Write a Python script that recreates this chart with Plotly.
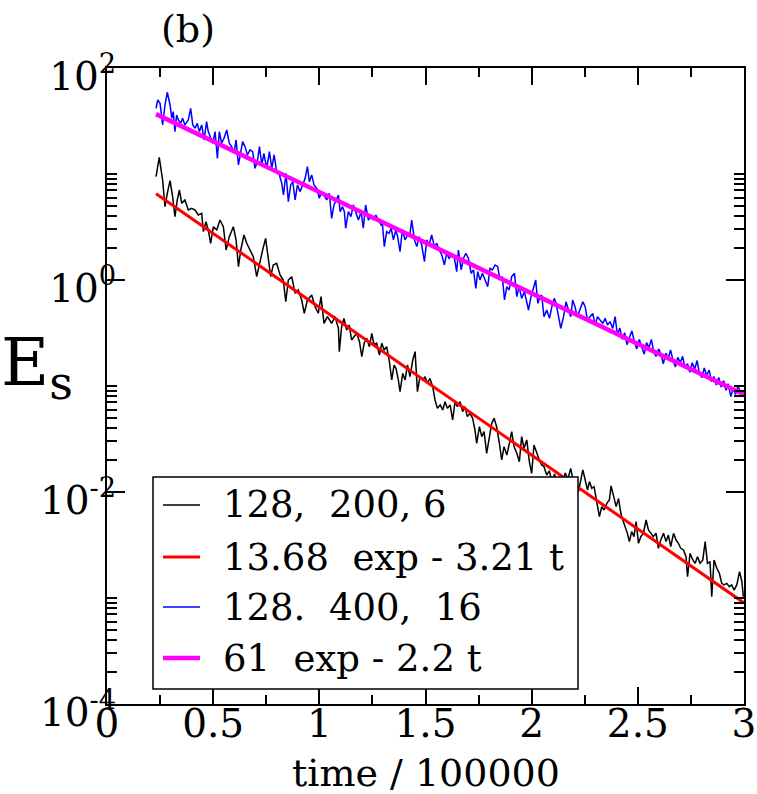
import plotly.graph_objects as go

# ---- data (E values read on the log axis as log10 E) ----
black_t = [
    0.231, 0.246, 0.262, 0.273, 0.284, 0.297, 0.309, 0.320, 0.331, 0.341,
    0.352, 0.367, 0.383, 0.399, 0.415, 0.430, 0.446, 0.454, 0.466, 0.477,
    0.488, 0.501, 0.517, 0.532, 0.548, 0.561, 0.576, 0.595, 0.608, 0.619,
    0.630, 0.645, 0.658, 0.674, 0.689, 0.705, 0.721, 0.733, 0.747, 0.760,
    0.771, 0.783, 0.799, 0.815, 0.830, 0.842, 0.854, 0.870, 0.886, 0.901,
    0.917, 0.929, 0.944, 0.964, 0.980, 0.995, 1.008, 1.022, 1.038, 1.058,
    1.074, 1.090, 1.094, 1.105, 1.116, 1.129, 1.141, 1.152, 1.163, 1.176,
    1.189, 1.200, 1.211, 1.223, 1.236, 1.247, 1.258, 1.270, 1.283, 1.294,
    1.305, 1.317, 1.330, 1.341, 1.352, 1.361, 1.372, 1.380, 1.393, 1.404,
    1.415, 1.427, 1.440, 1.451, 1.462, 1.474, 1.487, 1.498, 1.509, 1.521,
    1.534, 1.545, 1.556, 1.569, 1.581, 1.592, 1.603, 1.616, 1.628, 1.639,
    1.650, 1.663, 1.675, 1.686, 1.697, 1.710, 1.722, 1.733, 1.741, 1.754,
    1.765, 1.776, 1.788, 1.801, 1.812, 1.823, 1.835, 1.848, 1.859, 1.870,
    1.883, 1.895, 1.906, 1.917, 1.930, 1.942, 1.953, 1.964, 1.977, 1.989,
    2.000, 2.011, 2.024, 2.036, 2.047, 2.058, 2.071, 2.083, 2.095, 2.108,
    2.120, 2.133, 2.145, 2.158, 2.170, 2.184, 2.196, 2.208, 2.220, 2.241,
    2.252, 2.263, 2.272, 2.283, 2.294, 2.307, 2.319, 2.330, 2.341, 2.354,
    2.366, 2.374, 2.385, 2.398, 2.409, 2.420, 2.429, 2.440, 2.451, 2.460,
    2.471, 2.482, 2.492, 2.503, 2.514, 2.526, 2.539, 2.550, 2.561, 2.573,
    2.586, 2.597, 2.608, 2.621, 2.633, 2.644, 2.655, 2.668, 2.680, 2.691,
    2.702, 2.715, 2.727, 2.734, 2.746, 2.759, 2.770, 2.781, 2.793, 2.806,
    2.817, 2.828, 2.840, 2.848, 2.859, 2.872, 2.884, 2.895, 2.906, 2.919,
    2.931, 2.942, 2.953, 2.966, 2.979, 2.990, 2.997,
]
black_log10E = [
    0.975, 1.157, 0.943, 0.692, 0.818, 0.937, 0.786, 0.597, 0.755, 0.849,
    0.723, 0.755, 0.660, 0.676, 0.660, 0.613, 0.629, 0.456, 0.550, 0.472,
    0.346, 0.503, 0.472, 0.566, 0.503, 0.283, 0.409, 0.503, 0.377, 0.126,
    0.283, 0.425, 0.346, 0.283, 0.220, 0.031, 0.189, 0.283, 0.393, 0.189,
    0.031, 0.142, 0.157, 0.047, 0.000, -0.205, 0.000, 0.031, -0.126, -0.094,
    -0.189, -0.314, -0.189, -0.142, -0.252, -0.314, -0.157, -0.409, -0.346, -0.409,
    -0.346, -0.456, -0.676, -0.440, -0.362, -0.472, -0.425, -0.566, -0.535, -0.503,
    -0.582, -0.723, -0.597, -0.550, -0.629, -0.503, -0.613, -0.597, -0.708, -0.597,
    -0.660, -0.629, -0.770, -0.943, -0.802, -0.833, -0.943, -1.053, -0.881, -0.943,
    -0.802, -0.912, -0.755, -0.676, -1.053, -0.912, -0.943, -0.912, -0.975, -0.928,
    -1.006, -1.132, -1.211, -1.179, -1.226, -1.148, -1.211, -1.179, -1.321, -1.148,
    -1.195, -1.148, -1.242, -1.195, -1.289, -1.258, -1.305, -1.415, -1.541, -1.384,
    -1.478, -1.431, -1.635, -1.478, -1.352, -1.305, -1.384, -1.541, -1.698, -1.572,
    -1.651, -1.541, -1.431, -1.572, -1.635, -1.714, -1.478, -1.588, -1.509, -1.714,
    -1.824, -1.557, -1.635, -1.698, -1.745, -1.761, -1.840, -1.800, -1.900, -1.830,
    -1.950, -1.860, -1.920, -1.820, -1.880, -1.777, -1.900, -1.950, -2.000, -1.792,
    -1.887, -1.981, -1.902, -1.965, -1.950, -2.107, -2.233, -2.138, -2.170, -2.107,
    -2.075, -1.943, -2.044, -2.138, -2.060, -2.201, -2.264, -2.327, -2.390, -2.468,
    -2.374, -2.421, -2.280, -2.484, -2.421, -2.390, -2.264, -2.358, -2.390, -2.421,
    -2.390, -2.531, -2.453, -2.390, -2.468, -2.406, -2.516, -2.390, -2.453, -2.484,
    -2.531, -2.547, -2.610, -2.799, -2.579, -2.641, -2.673, -2.610, -2.673, -2.641,
    -2.468, -2.673, -2.657, -2.987, -2.641, -2.720, -2.767, -2.862, -2.877, -2.862,
    -2.893, -2.877, -2.925, -2.877, -2.752, -2.846, -2.987,
]

blue_t = [
    0.231, 0.239, 0.250, 0.262, 0.273, 0.284, 0.297, 0.305, 0.312, 0.320,
    0.328, 0.336, 0.347, 0.356, 0.367, 0.375, 0.383, 0.394, 0.404, 0.415,
    0.425, 0.435, 0.446, 0.457, 0.469, 0.477, 0.488, 0.498, 0.509, 0.520,
    0.529, 0.540, 0.551, 0.564, 0.576, 0.587, 0.598, 0.608, 0.619, 0.630,
    0.639, 0.650, 0.661, 0.674, 0.686, 0.697, 0.708, 0.718, 0.729, 0.739,
    0.752, 0.765, 0.776, 0.787, 0.799, 0.812, 0.823, 0.831, 0.843, 0.854,
    0.865, 0.875, 0.886, 0.897, 0.909, 0.922, 0.933, 0.944, 0.953, 0.964,
    0.975, 0.988, 1.000, 1.011, 1.022, 1.035, 1.047, 1.058, 1.069, 1.082,
    1.090, 1.098, 1.109, 1.118, 1.124, 1.137, 1.149, 1.160, 1.171, 1.184,
    1.197, 1.207, 1.218, 1.231, 1.244, 1.255, 1.266, 1.278, 1.291, 1.297,
    1.306, 1.317, 1.328, 1.338, 1.349, 1.360, 1.369, 1.380, 1.391, 1.404,
    1.416, 1.427, 1.435, 1.448, 1.459, 1.470, 1.482, 1.495, 1.506, 1.517,
    1.529, 1.542, 1.553, 1.564, 1.577, 1.589, 1.600, 1.611, 1.624, 1.636,
    1.647, 1.655, 1.668, 1.679, 1.690, 1.702, 1.715, 1.726, 1.737, 1.746,
    1.757, 1.768, 1.781, 1.793, 1.804, 1.815, 1.828, 1.840, 1.851, 1.862,
    1.872, 1.883, 1.894, 1.906, 1.919, 1.930, 1.941, 1.953, 1.966, 1.977,
    1.985, 1.997, 2.008, 2.019, 2.029, 2.040, 2.047, 2.058, 2.071, 2.084,
    2.095, 2.106, 2.115, 2.126, 2.137, 2.150, 2.162, 2.173, 2.184, 2.193,
    2.204, 2.215, 2.228, 2.241, 2.252, 2.263, 2.275, 2.288, 2.299, 2.310,
    2.322, 2.335, 2.346, 2.357, 2.369, 2.382, 2.393, 2.404, 2.415, 2.427,
    2.438, 2.449, 2.461, 2.472, 2.484, 2.495, 2.507, 2.518, 2.530, 2.541,
    2.552, 2.564, 2.575, 2.586, 2.598, 2.609, 2.620, 2.632, 2.643, 2.654,
    2.666, 2.677, 2.688, 2.700, 2.711, 2.722, 2.734, 2.745, 2.756, 2.768,
    2.779, 2.790, 2.802, 2.813, 2.824, 2.836, 2.847, 2.858, 2.870, 2.881,
    2.892, 2.904, 2.915, 2.926, 2.938, 2.949, 2.960, 2.972, 2.983, 2.995,
    3.000,
]
blue_log10E = [
    1.620, 1.698, 1.667, 1.463, 1.651, 1.771, 1.651, 1.526, 1.588, 1.400,
    1.557, 1.510, 1.478, 1.526, 1.463, 1.494, 1.510, 1.620, 1.463, 1.431,
    1.478, 1.400, 1.463, 1.321, 1.494, 1.400, 1.337, 1.290, 1.400, 1.148,
    1.400, 1.290, 1.337, 1.415, 1.290, 1.258, 1.195, 1.321, 1.085, 1.211,
    1.305, 1.258, 1.180, 1.227, 1.211, 1.054, 1.117, 1.258, 1.085, 1.195,
    1.054, 1.211, 1.054, 1.180, 1.022, 0.991, 0.912, 0.802, 1.007, 0.739,
    0.897, 0.928, 0.755, 0.897, 0.834, 0.897, 0.959, 1.070, 0.928, 0.991,
    0.897, 0.865, 0.771, 0.834, 0.802, 0.755, 0.818, 0.582, 0.708, 0.771,
    0.802, 0.645, 0.692, 0.645, 0.488, 0.645, 0.598, 0.708, 0.645, 0.566,
    0.645, 0.488, 0.708, 0.566, 0.598, 0.566, 0.613, 0.566, 0.519, 0.535,
    0.315, 0.456, 0.440, 0.488, 0.378, 0.472, 0.409, 0.268, 0.472, 0.378,
    0.425, 0.440, 0.566, 0.378, 0.315, 0.409, 0.330, 0.173, 0.378, 0.330,
    0.425, 0.315, 0.346, 0.283, 0.236, 0.142, 0.252, 0.205, 0.236, 0.205,
    0.079, 0.283, 0.095, 0.205, 0.252, 0.205, 0.063, 0.095, -0.079, 0.079,
    0.000, 0.063, 0.000, -0.063, 0.110, 0.095, 0.142, 0.126, 0.000, 0.032,
    -0.188, -0.063, -0.094, 0.032, 0.063, -0.157, -0.063, -0.173, -0.110, -0.220,
    -0.283, -0.157, -0.079, 0.000, -0.220, -0.157, -0.142, -0.346, -0.283, -0.362,
    -0.252, -0.173, -0.220, -0.346, -0.456, -0.346, -0.205, -0.283, -0.346, -0.189,
    -0.252, -0.346, -0.283, -0.205, -0.252, -0.378, -0.346, -0.315, -0.425, -0.346,
    -0.378, -0.409, -0.362, -0.425, -0.393, -0.456, -0.346, -0.520, -0.452, -0.560,
    -0.498, -0.610, -0.541, -0.480, -0.585, -0.650, -0.560, -0.620, -0.700, -0.590,
    -0.640, -0.560, -0.680, -0.720, -0.650, -0.700, -0.790, -0.690, -0.740, -0.660,
    -0.760, -0.820, -0.730, -0.780, -0.720, -0.830, -0.790, -0.870, -0.780, -0.840,
    -0.760, -0.880, -0.920, -0.830, -0.900, -0.850, -0.960, -0.910, -0.990, -0.920,
    -1.010, -0.950, -1.040, -0.980, -1.100, -1.020, -1.080, -1.000, -1.060, -1.090,
    -1.070,
]

# fitted straight lines (on the log axis): end points
red_fit_t = [0.231, 3.0]
red_fit_E = [6.517, 8.99e-4]
mag_fit_t = [0.231, 3.0]
mag_fit_E = [36.70, 0.08298]

legend_names = ["128,  200, 6", "13.68  exp - 3.21 t",
                "128.  400,  16", "61  exp - 2.2 t"]
series_colors = ["black", "#ff0000", "#0000ff", "#ff00ff"]
series_widths = [1.5, 3, 1.5, 4.5]

x_tickvals = [0, 0.5, 1, 1.5, 2, 2.5, 3]
x_ticktext = ["0", "0.5", "1", "1.5", "2", "2.5", "3"]
x_minor = [0.25, 0.75, 1.25, 1.75, 2.25, 2.75]
y_tickvals = [1e-4, 1e-2, 1, 1e2]
y_ticktext = ["10<sup>-4</sup>", "10<sup>-2</sup>", "10<sup>0</sup>", "10<sup>2</sup>"]
y_minor = ([k * 1e-4 for k in range(2, 11)] + [k * 1e-2 for k in range(2, 11)]
           + [k * 1.0 for k in range(2, 11)])

black_E = [10 ** v for v in black_log10E]
blue_E = [10 ** v for v in blue_log10E]

FONT = "DejaVu Serif"

fig = go.Figure()
xs = [black_t, red_fit_t, blue_t, mag_fit_t]
ys = [black_E, red_fit_E, blue_E, mag_fit_E]
for i in range(4):
    fig.add_trace(go.Scatter(x=xs[i], y=ys[i], mode="lines", name=legend_names[i],
                             line=dict(color=series_colors[i], width=series_widths[i]),
                             showlegend=False))

axis_common = dict(showline=True, linewidth=2, linecolor="black", mirror="allticks",
                   ticks="inside", tickwidth=2, tickcolor="black", showgrid=False,
                   zeroline=False, automargin=False,
                   tickfont=dict(family=FONT, size=39, color="black"))

fig.update_xaxes(range=[0, 3], tickvals=x_tickvals, ticktext=x_ticktext, ticklen=17,
                 ticklabelstandoff=-16,
                 minor=dict(tickvals=x_minor, ticks="inside", ticklen=9, tickwidth=2,
                            tickcolor="black", showgrid=False),
                 **axis_common)
fig.update_yaxes(type="log", range=[-4, 2], tickvals=y_tickvals, ticktext=y_ticktext,
                 ticklen=18, ticklabelstandoff=-19, ticklabelshift=8,
                 minor=dict(tickvals=y_minor, ticks="inside", ticklen=10, tickwidth=2,
                            tickcolor="black", showgrid=False),
                 **axis_common)

# ---- legend panel (positions in paper fractions) ----
L_X0, L_X1, L_Y0, L_Y1 = 0.0722, 0.7394, 0.0236, 0.3569
ROW_Y = [0.3129, 0.2311, 0.1525, 0.0723]
SAMPLE_X0, SAMPLE_X1, TEXT_X = 0.0879, 0.146, 0.1790

shapes = [dict(type="rect", xref="paper", yref="paper", x0=L_X0, x1=L_X1, y0=L_Y0, y1=L_Y1,
               line=dict(color="black", width=1.5), fillcolor="white", layer="above")]
annotations = []
for i in range(4):
    shapes.append(dict(type="line", xref="paper", yref="paper", x0=SAMPLE_X0, x1=SAMPLE_X1,
                       y0=ROW_Y[i], y1=ROW_Y[i], layer="above",
                       line=dict(color=series_colors[i], width=series_widths[i])))
    annotations.append(dict(text=legend_names[i], xref="paper", yref="paper", x=TEXT_X,
                            y=ROW_Y[i], xanchor="left", yanchor="middle", showarrow=False,
                            font=dict(family=FONT, size=37, color="black")))

annotations += [
    dict(text="(b)", xref="paper", yref="paper", x=0.127, y=1.061,
         xanchor="center", yanchor="middle", showarrow=False,
         font=dict(family=FONT, size=38, color="black")),
    dict(text="E<sub>s</sub>", xref="paper", yref="paper", x=-0.17, y=0.53,
         xanchor="left", yanchor="middle", showarrow=False,
         font=dict(family=FONT, size=66, color="black")),
    dict(text="time / 100000", xref="paper", yref="paper", x=0.5, y=-0.1085,
         xanchor="center", yanchor="middle", showarrow=False,
         font=dict(family=FONT, size=38, color="black")),
]

fig.update_layout(
    template="none",
    width=757, height=794,
    margin=dict(l=107, r=13, t=68, b=90, autoexpand=False),
    showlegend=False,
    shapes=shapes,
    annotations=annotations,
)

fig.write_html("out.html")
